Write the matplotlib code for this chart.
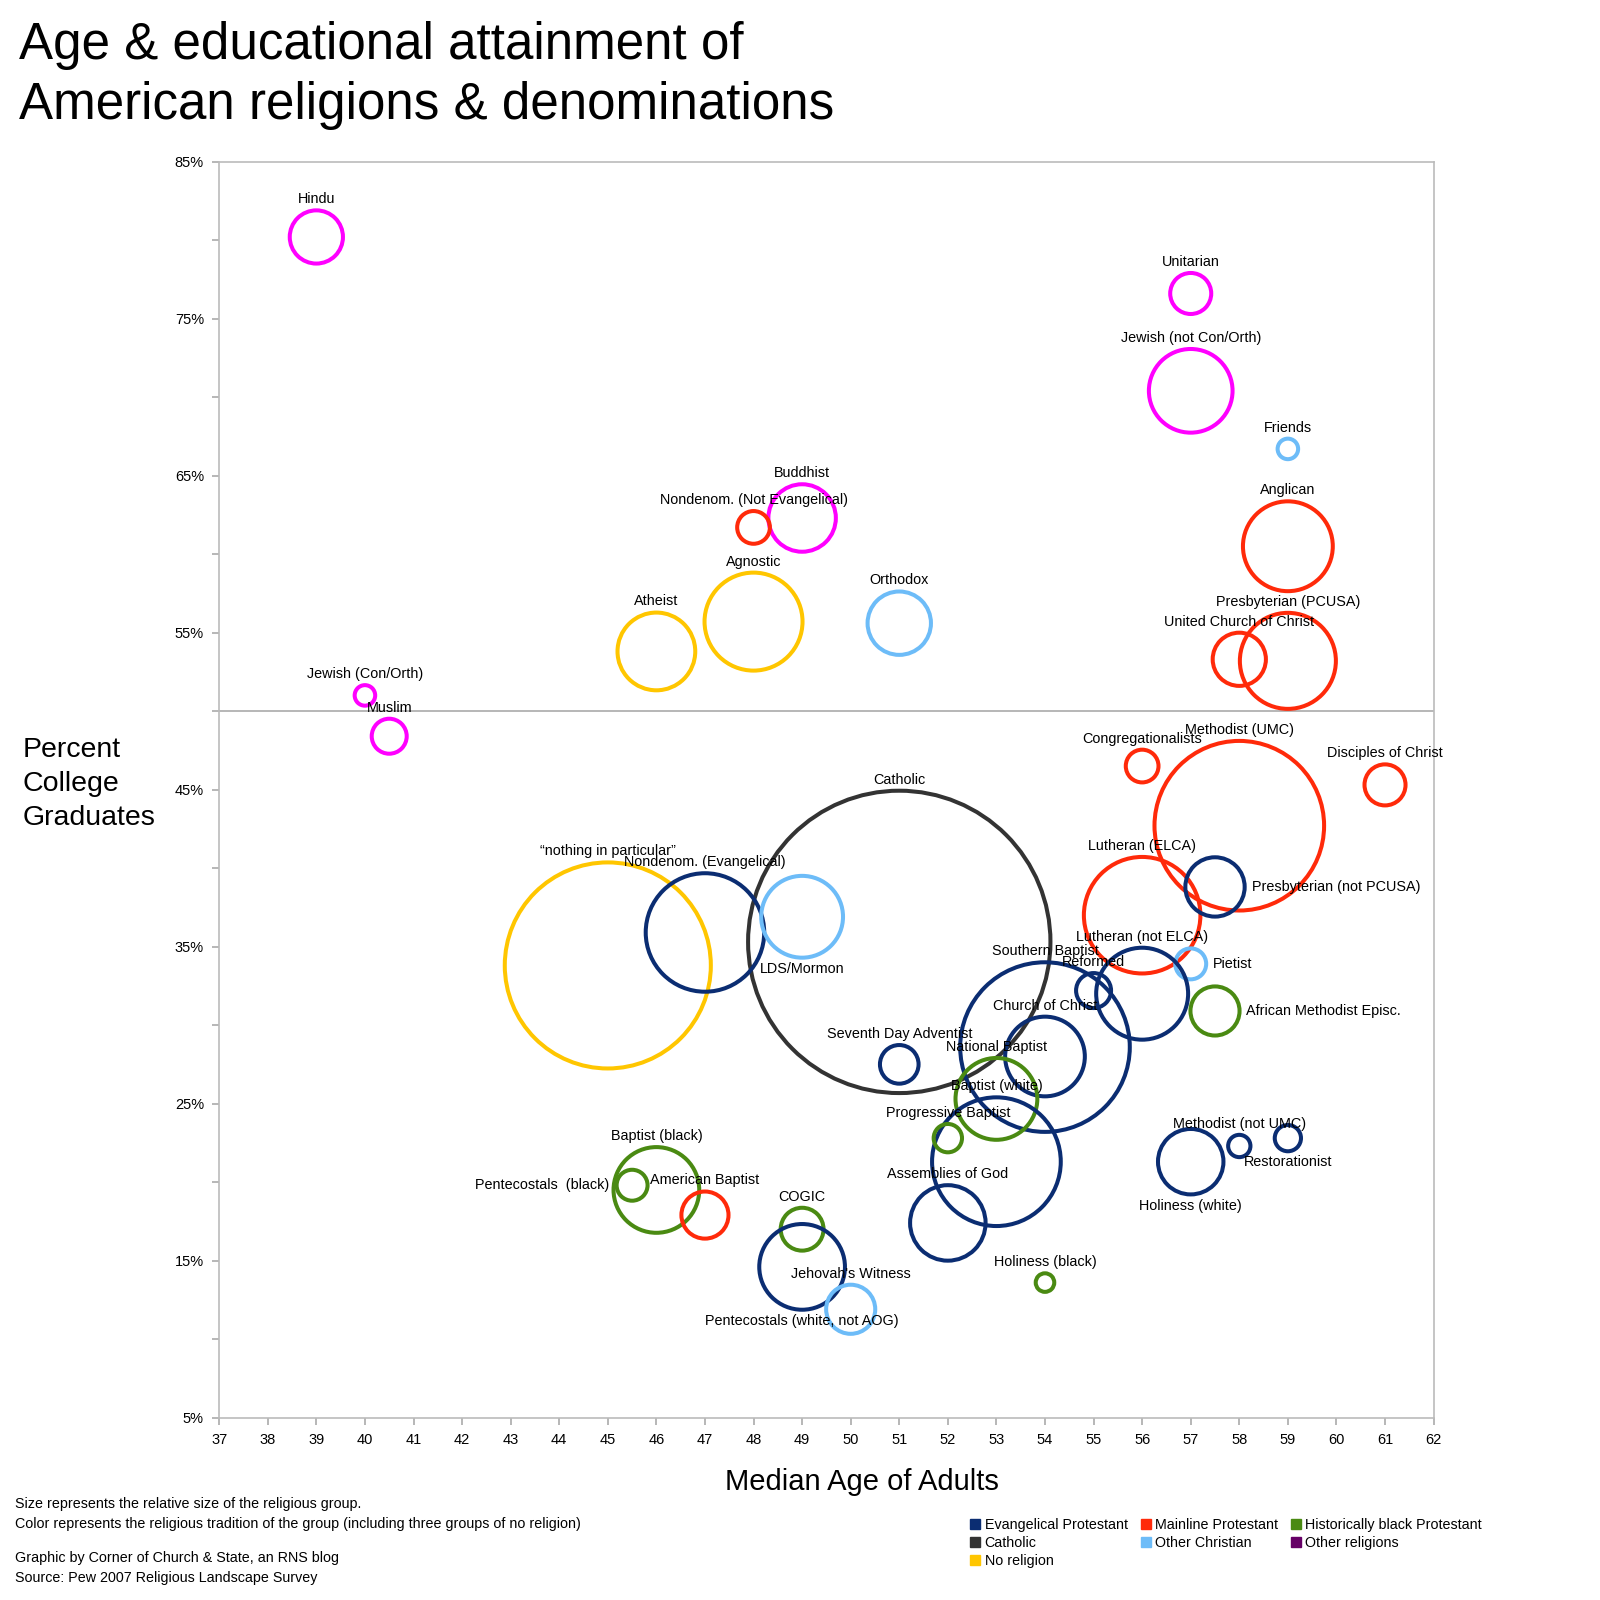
import numpy as np
import matplotlib
matplotlib.use('Agg')
from matplotlib import pyplot as plt
from matplotlib.lines import Line2D

plt.rcParams['font.family'] = ['Liberation Sans', 'DejaVu Sans']

# religious groups: median age, % college graduates, share of adults (%), tradition
names = ['Hindu', 'Unitarian', 'Jewish (not Con/Orth)', 'Friends', 'Anglican',
         'Presbyterian (PCUSA)', 'United Church of Christ', 'Buddhist',
         'Nondenom. (Not Evangelical)', 'Agnostic', 'Atheist', 'Orthodox',
         'Jewish (Con/Orth)', 'Muslim', 'Congregationalists', 'Methodist (UMC)',
         'Disciples of Christ', 'Catholic', '\u201cnothing in particular\u201d',
         'Nondenom. (Evangelical)', 'LDS/Mormon', 'Lutheran (ELCA)',
         'Presbyterian (not PCUSA)', 'Pietist', 'Lutheran (not ELCA)', 'Reformed',
         'African Methodist Episc.', 'Southern Baptist', 'Church of Christ',
         'Seventh Day Adventist', 'National Baptist', 'Baptist (white)',
         'Progressive Baptist', 'Assemblies of God', 'Holiness (black)',
         'Methodist (not UMC)', 'Restorationist', 'Holiness (white)',
         'Baptist (black)', 'Pentecostals  (black)', 'American Baptist', 'COGIC',
         'Pentecostals (white, not AOG)', "Jehovah's Witness"]

median_age = [39, 57, 57, 59, 59,
              59, 58, 49,
              48, 48, 46, 51,
              40, 40.5, 56, 58,
              61, 51, 45,
              47, 49, 56,
              57.5, 57, 56, 55,
              57.5, 54, 54,
              51, 53, 53,
              52, 52, 54,
              58, 59, 57,
              46, 45.5, 47, 49,
              49, 50]

college_pct = [80.2, 76.6, 70.4, 66.7, 60.5,
               53.2, 53.3, 62.3,
               61.7, 55.7, 53.8, 55.6,
               51.0, 48.4, 46.5, 42.7,
               45.3, 35.3, 33.8,
               35.9, 36.9, 37.0,
               38.8, 33.9, 32.0, 32.2,
               30.9, 28.6, 28.0,
               27.5, 25.3, 21.3,
               22.8, 17.4, 13.6,
               22.3, 22.8, 21.3,
               19.5, 19.8, 17.9, 17.0,
               14.6, 11.9]

share_pct = [0.74, 0.44, 1.83, 0.11, 2.11,
             2.41, 0.74, 1.19,
             0.28, 2.51, 1.58, 1.05,
             0.11, 0.32, 0.28, 7.52,
             0.44, 23.9, 11.1,
             3.67, 1.75, 3.55,
             0.92, 0.25, 2.21, 0.32,
             0.63, 7.52, 1.66,
             0.39, 1.75, 4.33,
             0.21, 1.49, 0.09,
             0.13, 0.18, 1.12,
             1.92, 0.25, 0.58, 0.48,
             1.92, 0.63]

tradition = ['other', 'other', 'other', 'otherchr', 'mainline',
             'mainline', 'mainline', 'other',
             'mainline', 'none', 'none', 'otherchr',
             'other', 'other', 'mainline', 'mainline',
             'mainline', 'catholic', 'none',
             'evang', 'otherchr', 'mainline',
             'evang', 'otherchr', 'evang', 'evang',
             'black', 'evang', 'evang',
             'evang', 'black', 'evang',
             'black', 'evang', 'black',
             'evang', 'evang', 'evang',
             'black', 'black', 'mainline', 'black',
             'evang', 'otherchr']

# legend entries, in the order that fills the 3 legend columns row by row
legend_keys = ['evang', 'catholic', 'none', 'mainline', 'otherchr', 'black', 'other']
legend_labels = ['Evangelical Protestant', 'Catholic', 'No religion', 'Mainline Protestant',
                 'Other Christian', 'Historically black Protestant', 'Other religions']

colors = {'evang': '#0b2d72', 'mainline': '#ff2a0a', 'black': '#4a8a12',
          'catholic': '#333333', 'otherchr': '#6dbcf8', 'other': '#ff00ff',
          'none': '#ffc600'}
legend_colors = dict(colors, other='#660066')

# labels that are not placed above their bubble
label_side = {'Presbyterian (not PCUSA)': 'right', 'Pietist': 'right',
              'African Methodist Episc.': 'right', 'Pentecostals  (black)': 'left',
              'LDS/Mormon': 'below', 'Restorationist': 'below',
              'Holiness (white)': 'below', 'Pentecostals (white, not AOG)': 'below'}

fig = plt.figure(figsize=(16, 16), dpi=100)
ax = fig.add_axes([0.137, 0.114, 0.759, 0.785])

size_scale = 1983.0  # points^2 per percent of adults
sizes = np.array(share_pct) * size_scale

for n, x, y, s, t in zip(names, median_age, college_pct, sizes, tradition):
    ax.scatter([x], [y], s=s, facecolors='none', edgecolors=colors[t],
               linewidths=2.9, zorder=2, clip_on=False)

for n, x, y, s in zip(names, median_age, college_pct, sizes):
    r = np.sqrt(s) / 2
    side = label_side.get(n, 'above')
    if side == 'above':
        off, ha = (0, r + 8), 'center'
    elif side == 'below':
        off, ha = (0, -r - 8), 'center'
    elif side == 'right':
        off, ha = (r + 5, 0), 'left'
    else:
        off, ha = (-r - 5, 0), 'right'
    ax.annotate(n, (x, y), xytext=off, textcoords='offset points',
                ha=ha, va='center', fontsize=10.4, zorder=5)

ax.axhline(50, color='#aaaaaa', lw=1.2, zorder=1)

ax.set_xlim(37, 62)
ax.set_ylim(5, 85)
ax.set_xticks(np.arange(37, 63, 1))
ax.set_yticks(np.arange(5, 86, 10))
ax.set_yticks(np.arange(10, 85, 10), minor=True)
ax.set_yticklabels(['%d%%' % v for v in np.arange(5, 86, 10)])
ax.tick_params(axis='both', which='both', direction='out', color='#aaaaaa',
               length=5, width=1.2, labelsize=10.5, pad=6)
for sp in ax.spines.values():
    sp.set_color('#bbbbbb')
    sp.set_linewidth(1.2)

fig.text(0.012, 0.987, 'Age & educational attainment of\nAmerican religions & denominations',
         ha='left', va='top', fontsize=36.8, linespacing=1.3)
fig.text(0.014, 0.51, 'Percent\nCollege\nGraduates', ha='left', va='center',
         fontsize=20.5, linespacing=1.42)
fig.text(0.539, 0.074, 'Median Age of Adults', ha='center', va='center', fontsize=21)

fig.text(0.0095, 0.054, 'Size represents the relative size of the religious group.\n'
         'Color represents the religious tradition of the group (including three groups of no religion)',
         ha='left', va='center', fontsize=10.3, linespacing=1.55)
fig.text(0.0095, 0.0198, 'Graphic by Corner of Church & State, an RNS blog\n'
         'Source: Pew 2007 Religious Landscape Survey',
         ha='left', va='center', fontsize=10.3, linespacing=1.55)

handles = [Line2D([], [], marker='s', ls='none', markersize=7,
                  color=legend_colors[k]) for k in legend_keys]
fig.legend(handles, legend_labels, loc='upper left', bbox_to_anchor=(0.602, 0.056),
           ncol=3, frameon=False, fontsize=10.3, handlelength=0.7, handletextpad=0.3,
           columnspacing=0.9, labelspacing=0.3, borderpad=0)

fig.savefig('out.png', dpi=100, facecolor='white')
